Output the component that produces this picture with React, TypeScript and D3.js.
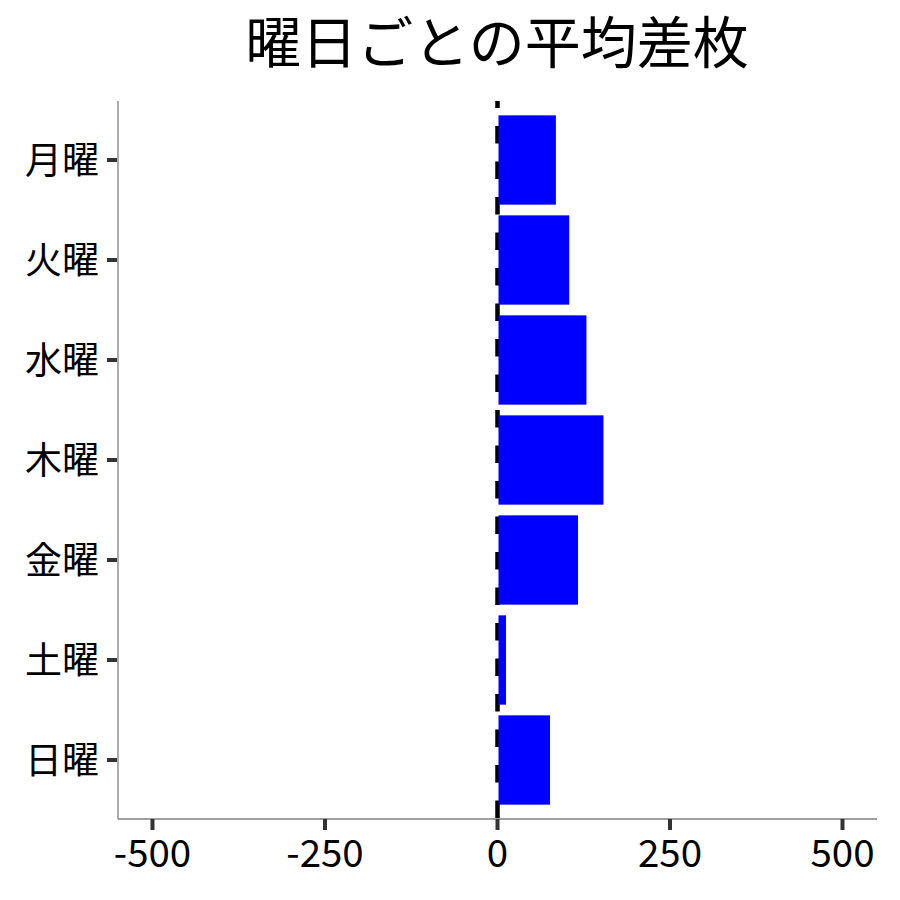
import React from "react";
import * as d3 from "d3";

const days: string[] = ["月曜", "火曜", "水曜", "木曜", "金曜", "土曜", "日曜"];
const avgDiff: number[] = [84.6, 104, 128.9, 153.6, 116.7, 12.3, 76.1];
const xTicks: number[] = [-500, -250, 0, 250, 500];
const title = "曜日ごとの平均差枚";

const W = 900;
const H = 900;
const left = 118;
const right = 877;
const top = 101;
const bottom = 819;
const FONT = "'Noto Sans CJK JP', 'Noto Sans', sans-serif";

export default function App() {
  const x = d3.scaleLinear().domain([-550, 550]).range([left, right]);
  const y = d3
    .scaleBand<string>()
    .domain(days)
    .range([110, 810])
    .paddingInner(0.107)
    .paddingOuter(0.0535);

  const x0 = x(0);

  return (
    <svg
      width={W}
      height={H}
      viewBox={`0 0 ${W} ${H}`}
      style={{ position: "absolute", left: 0, top: 0, background: "#fff" }}
    >
      <text
        x={497}
        y={63}
        textAnchor="middle"
        fontFamily={FONT}
        fontSize={56}
        fill="#000"
      >
        {title}
      </text>

      {/* zero dashed line */}
      <line
        x1={x0}
        x2={x0}
        y1={top}
        y2={bottom}
        stroke="#000"
        strokeWidth={4.5}
        strokeDasharray="17.5 18"
        strokeDashoffset={10.5}
      />

      {/* bars */}
      {days.map((d, i) => {
        const v = avgDiff[i];
        const bx = Math.min(x(0), x(v));
        const bw = Math.abs(x(v) - x(0));
        return (
          <rect
            key={d}
            x={bx + 1}
            y={y(d)!}
            width={Math.max(0, bw - 1)}
            height={y.bandwidth()}
            fill="#0000ff"
          />
        );
      })}

      {/* axes lines */}
      <line x1={left} x2={left} y1={top} y2={bottom} stroke="#7f7f7f" strokeWidth={1.3} />
      <line x1={left} x2={right} y1={bottom} y2={bottom} stroke="#7f7f7f" strokeWidth={1.3} />

      {/* y ticks */}
      {days.map((d) => {
        const cy = y(d)! + y.bandwidth() / 2;
        return (
          <g key={d}>
            <line x1={107} x2={117} y1={cy} y2={cy} stroke="#333" strokeWidth={4} />
            <text
              x={99}
              y={cy - 2}
              textAnchor="end"
              dominantBaseline="central"
              fontFamily={FONT}
              fontSize={37}
              fill="#000"
            >
              {d}
            </text>
          </g>
        );
      })}

      {/* x ticks */}
      {xTicks.map((t) => (
        <g key={t}>
          <line x1={x(t)} x2={x(t)} y1={bottom} y2={830} stroke="#333" strokeWidth={4} />
          <text
            x={x(t)}
            y={867}
            textAnchor="middle"
            fontFamily={FONT}
            fontSize={38.5}
            fill="#000"
          >
            {t}
          </text>
        </g>
      ))}
    </svg>
  );
}
